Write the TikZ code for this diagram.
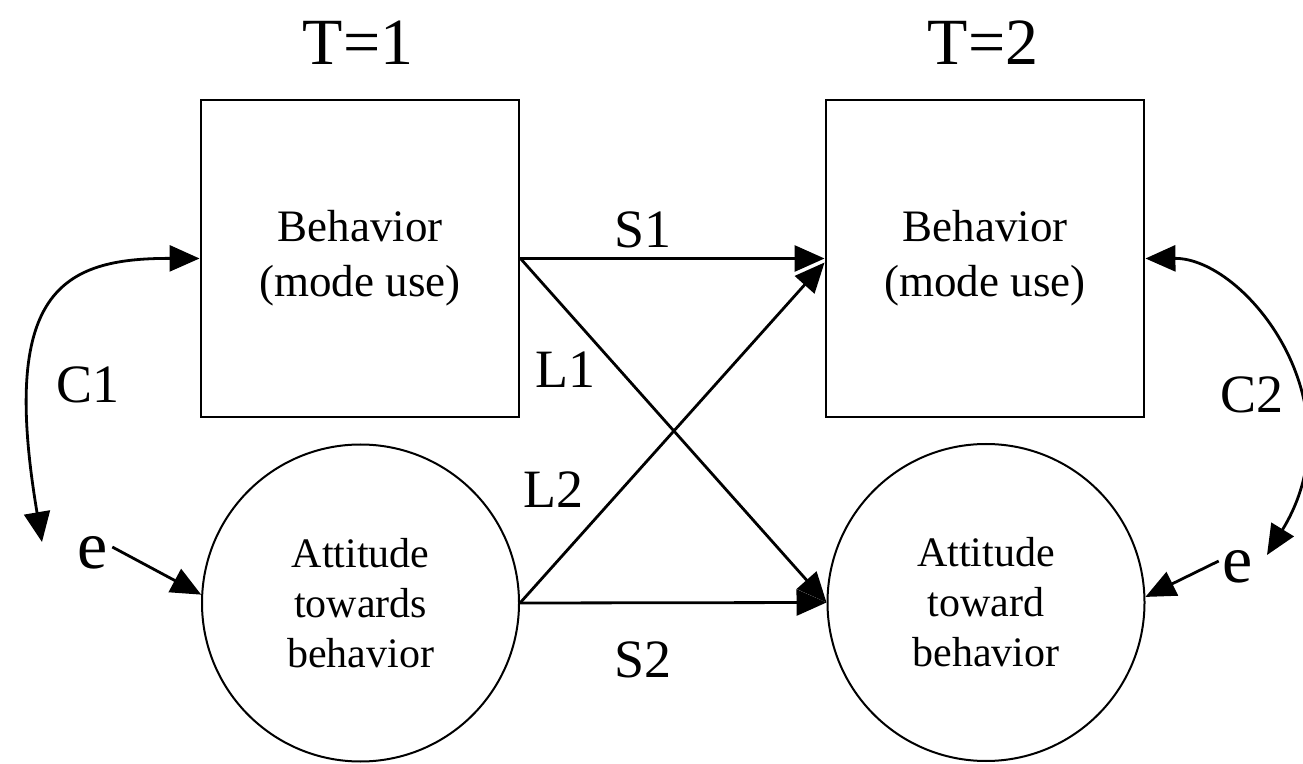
\documentclass[tikz,border=0pt]{standalone}
\usepackage{fontspec}
\setmainfont{Liberation Serif}
\usetikzlibrary{arrows.meta}
\begin{document}
\begin{tikzpicture}[x=1pt,y=1pt,
  boxnode/.style={draw, line width=2.9pt, minimum width=318pt, minimum height=317pt, inner sep=0pt, align=center, font=\fontsize{45}{55}\selectfont},
  circnode/.style={draw, circle, line width=2pt, minimum size=317pt, inner sep=0pt, align=center, font=\fontsize{42}{50}\selectfont},
  arr/.style={line width=2.8pt, -{Triangle[length=30pt,width=26pt]}},
  dblarr/.style={line width=2.8pt, {Triangle[length=30pt,width=26pt]}-{Triangle[length=30pt,width=26pt]}},
  lbl/.style={inner sep=0pt, font=\fontsize{54}{60}\selectfont},
  tlbl/.style={inner sep=0pt, font=\fontsize{66}{70}\selectfont},
  elbl/.style={inner sep=0pt, font=\fontsize{68}{70}\selectfont}]
\useasboundingbox (0,0) rectangle (1303,763);

\node[tlbl] (t1) at (358,720) {T=1};
\node[tlbl] (t2) at (983,720) {T=2};

\node[boxnode] (b1) at (360,504.5) {Behavior\\(mode use)};
\node[boxnode] (b2) at (985,504.5) {Behavior\\(mode use)};
\node[circnode] (a1) at (360.5,160) {Attitude\\towards\\behavior};
\node[circnode] (a2) at (986,160.5) {Attitude\\toward\\behavior};

\node[elbl] (e1) at (93,210) {e};
\node[elbl] (e2) at (1238,196) {e};
\coordinate (c1s) at (42,221);
\coordinate (c2s) at (1267,208);

\draw[arr] (b1.east) -- (b2.west);
\draw[arr] (b1.east) -- (a2.west);
\draw[arr] (a1.east) -- ([yshift=-4pt]b2.west);
\draw[arr] (a1.east) -- (a2.west);

\draw[arr] ([xshift=4pt,yshift=6pt]e1.east) -- (a1.177);
\draw[arr] ([xshift=-4pt,yshift=6pt]e2.west) -- (a2.2);

\draw[dblarr] (c1s) .. controls (0,470) and (60,505) .. (b1.west);
\draw[dblarr] (c2s) .. controls (1360,360) and (1245,505) .. (b2.east);

\node[lbl] (s1) at (643,533) {S1};
\node[lbl] (l1) at (565,393) {L1};
\node[lbl] (l2) at (553,273) {L2};
\node[lbl] (s2) at (643,103) {S2};
\node[lbl] (c1) at (88,378) {C1};
\node[lbl] (c2) at (1252,368) {C2};
\end{tikzpicture}
\end{document}
